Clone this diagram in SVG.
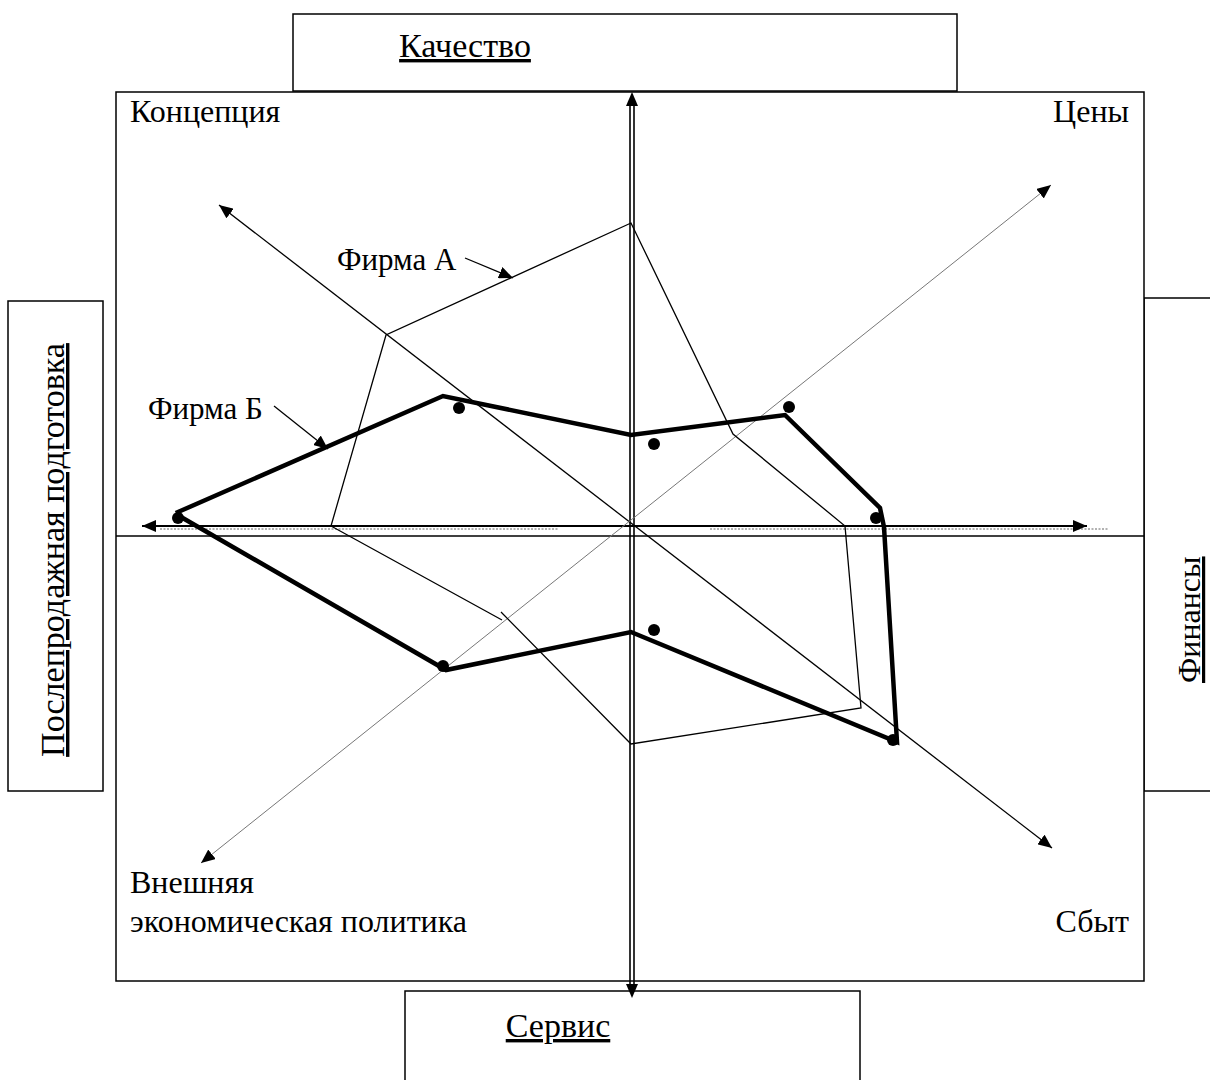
<svg xmlns="http://www.w3.org/2000/svg" width="1210" height="1080" viewBox="0 0 1210 1080">
  <style>
    text { font-family: "Liberation Serif", "Times New Roman", serif; font-size: 32px; fill: #000; }
    .u { text-decoration: underline; }
    .lbl { font-size: 31px; }
    .box { fill: #fff; stroke: #000; stroke-width: 1.5; }
    .thin { fill: none; stroke: #000; stroke-width: 1.3; }
    .gray { fill: none; stroke: #777; stroke-width: 1; }
    .firmB { fill: none; stroke: #000; stroke-width: 4.5; stroke-linejoin: miter; }
    .dot { fill: #000; }
  </style>
  <defs>
    <marker id="ah" viewBox="0 0 14 12" refX="14" refY="6" markerWidth="14" markerHeight="12" markerUnits="userSpaceOnUse" orient="auto-start-reverse">
      <path d="M0,0 L14,6 L0,12 Z" fill="#000"/>
    </marker>
  </defs>

  <!-- outer boxes -->
  <g id="box-quality">
    <rect class="box" x="293" y="14" width="664" height="77"/>
    <text class="u" x="465" y="57" text-anchor="middle" style="font-size:34px">Качество</text>
  </g>
  <g id="box-aftersales">
    <rect class="box" x="8" y="301" width="95" height="490"/>
    <text class="u" transform="translate(64,550) rotate(-90)" text-anchor="middle" style="font-size:34px">Послепродажная подготовка</text>
  </g>
  <g id="box-finance">
    <rect class="box" x="1144" y="298" width="80" height="493"/>
    <text class="u" transform="translate(1200,683) rotate(-90)">Финансы</text>
  </g>
  <g id="box-service">
    <rect class="box" x="405" y="991" width="455" height="100"/>
    <text class="u" x="558" y="1037" text-anchor="middle" style="font-size:34px">Сервис</text>
  </g>

  <!-- main field -->
  <g id="field">
    <rect class="box" x="116" y="92" width="1028" height="889"/>
    <line x1="116" y1="536" x2="1144" y2="536" stroke="#000" stroke-width="1.5"/>
    <text x="130" y="122">Концепция</text>
    <text x="1129" y="122" text-anchor="end">Цены</text>
    <text x="130" y="893">Внешняя</text>
    <text x="130" y="932">экономическая политика</text>
    <text x="1129" y="932" text-anchor="end">Сбыт</text>
  </g>

  <!-- axes -->
  <g id="axes">
    <line x1="160" y1="529" x2="558" y2="529" stroke="#999" stroke-width="1.5" stroke-dasharray="2,1.5"/>
    <line x1="710" y1="529" x2="1108" y2="529" stroke="#999" stroke-width="1.5" stroke-dasharray="2,1.5"/>
    <line x1="142" y1="526" x2="1087" y2="526" stroke="#000" stroke-width="2" marker-start="url(#ah)" marker-end="url(#ah)"/>
    <line x1="630" y1="106" x2="630" y2="984" stroke="#000" stroke-width="1.6"/>
    <line x1="634" y1="106" x2="634" y2="984" stroke="#000" stroke-width="1.6"/>
    <line x1="632" y1="120" x2="632" y2="92" stroke="#000" stroke-width="0.01" marker-end="url(#ah)"/>
    <line x1="632" y1="970" x2="632" y2="998" stroke="#000" stroke-width="0.01" marker-end="url(#ah)"/>
    <line class="thin" x1="219" y1="205" x2="1052" y2="848" marker-start="url(#ah)" marker-end="url(#ah)"/>
    <line class="gray" x1="201" y1="863" x2="1051" y2="185" marker-start="url(#ah)" marker-end="url(#ah)"/>
  </g>

  <!-- Firm A profile -->
  <g id="firm-a">
    <polyline class="thin" points="502,620 331,526 386,335 631,223 733,434 845,526 861,708 631,744 501,612"/>
    <text class="lbl" x="337" y="270">Фирма А</text>
    <line class="thin" x1="465" y1="258" x2="513" y2="278" marker-end="url(#ah)"/>
  </g>

  <!-- Firm B profile -->
  <g id="firm-b">
    <polygon class="firmB" points="178,512 443,396 631,435 785,415 880,508 884,527 897,742 631,632 446,670 181,517"/>
    <text class="lbl" x="148" y="419">Фирма Б</text>
    <line class="thin" x1="274" y1="406" x2="328" y2="449" marker-end="url(#ah)"/>
    <circle class="dot" cx="178" cy="518" r="6"/>
    <circle class="dot" cx="459" cy="408" r="6"/>
    <circle class="dot" cx="654" cy="444" r="6"/>
    <circle class="dot" cx="789" cy="407" r="6"/>
    <circle class="dot" cx="876" cy="518" r="6"/>
    <circle class="dot" cx="654" cy="630" r="6"/>
    <circle class="dot" cx="443" cy="666" r="6"/>
    <circle class="dot" cx="893" cy="740" r="6"/>
  </g>
</svg>
